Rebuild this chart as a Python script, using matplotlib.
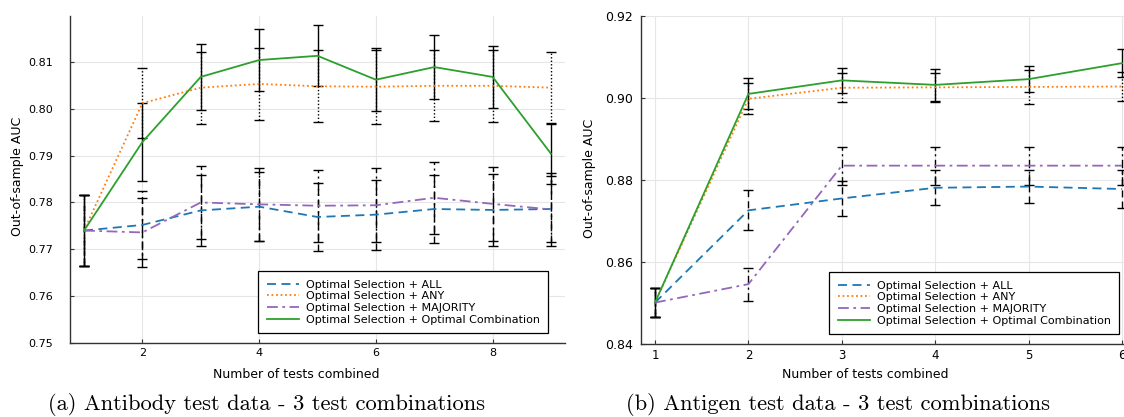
import numpy as np
import matplotlib.pyplot as plt

# Antibody panel: mean out-of-sample AUC and error half-widths
ab_x = [1, 2, 3, 4, 5, 6, 7, 8, 9]
ab_all = [0.7740, 0.7752, 0.7783, 0.7791, 0.7769, 0.7774, 0.7786, 0.7784, 0.7786]
ab_any = [0.7740, 0.8012, 0.8045, 0.8053, 0.8048, 0.8047, 0.8049, 0.8049, 0.8045]
ab_maj = [0.7740, 0.7736, 0.7800, 0.7796, 0.7793, 0.7794, 0.7810, 0.7797, 0.7785]
ab_opt = [0.7740, 0.7929, 0.8068, 0.8104, 0.8113, 0.8062, 0.8089, 0.8068, 0.7904]
ab_all_err = [0.0075, 0.0073, 0.0075, 0.0073, 0.0073, 0.0075, 0.0073, 0.0076, 0.0070]
ab_any_err = [0.0075, 0.0075, 0.0077, 0.0076, 0.0077, 0.0079, 0.0076, 0.0077, 0.0077]
ab_maj_err = [0.0075, 0.0074, 0.0078, 0.0078, 0.0077, 0.0079, 0.0077, 0.0079, 0.0077]
ab_opt_err = [0.0075, 0.0083, 0.0070, 0.0066, 0.0065, 0.0067, 0.0068, 0.0067, 0.0065]

# Antigen panel
ag_x = [1, 2, 3, 4, 5, 6]
ag_all = [0.8501, 0.8726, 0.8755, 0.8781, 0.8784, 0.8778]
ag_any = [0.8501, 0.8998, 0.9025, 0.9026, 0.9027, 0.9028]
ag_maj = [0.8501, 0.8546, 0.8835, 0.8835, 0.8835, 0.8835]
ag_opt = [0.8501, 0.9010, 0.9043, 0.9032, 0.9046, 0.9085]
ag_all_err = [0.0035, 0.0049, 0.0042, 0.0043, 0.0041, 0.0046]
ag_any_err = [0.0035, 0.0038, 0.0035, 0.0035, 0.0041, 0.0035]
ag_maj_err = [0.0035, 0.0040, 0.0046, 0.0046, 0.0046, 0.0046]
ag_opt_err = [0.0035, 0.0038, 0.0030, 0.0039, 0.0032, 0.0034]

labels = ['Optimal Selection + ALL', 'Optimal Selection + ANY',
          'Optimal Selection + MAJORITY', 'Optimal Selection + Optimal Combination']
colors = ['#1f77b4', '#ff7f0e', '#9467bd', '#2ca02c']
styles = [(0, (5, 3)), (0, (1, 1.5)), (0, (6, 2.5, 1.5, 2.5)), '-']

plt.rcParams['font.family'] = 'DejaVu Sans'

fig = plt.figure(figsize=(11.24, 4.17), dpi=100)
ax1 = fig.add_axes([70/1124, 74/417, 495/1124, 327/417])
ax2 = fig.add_axes([641/1124, 73/417, 495/1124, 328/417])


def draw_panel(ax, x, means, errs):
    for m, e, c, ls, lab in zip(means, errs, colors, styles, labels):
        eb = ax.errorbar(x, m, yerr=e, fmt='none', ecolor='black',
                         elinewidth=1.0, capsize=3.5, capthick=1.0, zorder=2)
        eb[2][0].set_linestyle(ls)
        ax.plot(x, m, color=c, linestyle=ls, linewidth=1.3, label=lab, zorder=3)
    ax.grid(True, color='#e6e6e6', linewidth=0.8)
    ax.set_axisbelow(True)
    for s in ['top', 'right']:
        ax.spines[s].set_visible(False)
    for s in ['left', 'bottom']:
        ax.spines[s].set_color('#333333')
        ax.spines[s].set_linewidth(1.0)
    ax.tick_params(direction='in', length=3, width=0.8, color='#333333',
                   labelsize=7.5)
    leg = ax.legend(loc='lower right', bbox_to_anchor=(0.9657, 0.0306),
                    borderaxespad=0, fontsize=8.0, handlelength=2.9,
                    labelspacing=0.15, borderpad=0.75, handletextpad=0.6,
                    fancybox=False, framealpha=1)
    leg.get_frame().set_edgecolor('black')
    leg.get_frame().set_linewidth(0.9)


draw_panel(ax1, ab_x, [ab_all, ab_any, ab_maj, ab_opt],
           [ab_all_err, ab_any_err, ab_maj_err, ab_opt_err])
ax1.set_xlim(0.76, 9.24)
ax1.set_ylim(0.75, 0.8198)
ax1.set_xticks([2, 4, 6, 8])
ax1.set_yticks(np.arange(0.75, 0.8151, 0.01))
ax1.set_yticklabels([f'{v:.2f}' for v in np.arange(0.75, 0.8151, 0.01)])
ax1.tick_params(axis='y', pad=12, labelsize=8)
ax1.tick_params(axis='x', labelsize=8)

draw_panel(ax2, ag_x, [ag_all, ag_any, ag_maj, ag_opt],
           [ag_all_err, ag_any_err, ag_maj_err, ag_opt_err])
ax2.set_xlim(0.85, 6.15)
ax2.set_ylim(0.84, 0.92)
ax2.set_xticks([1, 2, 3, 4, 5, 6])
ax2.set_yticks([0.84, 0.86, 0.88, 0.90, 0.92])
ax2.set_yticklabels(['0.84', '0.86', '0.88', '0.90', '0.92'])
ax2.tick_params(axis='y', pad=6, labelsize=9)
ax2.tick_params(axis='x', labelsize=8.5)

# axis titles
fig.text(296/1124, 1 - 374/417, 'Number of tests combined', ha='center',
         va='center', fontsize=9)
fig.text(865/1124, 1 - 374/417, 'Number of tests combined', ha='center',
         va='center', fontsize=9)
fig.text(18/1124, 1 - 176/417, 'Out-of-sample AUC', rotation=90,
         ha='center', va='center', fontsize=9)
fig.text(589/1124, 1 - 178/417, 'Out-of-sample AUC', rotation=90,
         ha='center', va='center', fontsize=9)

# sub-figure captions
fig.text(267/1124, 1 - 404/417, '(a) Antibody test data - 3 test combinations',
         ha='center', va='center', fontsize=16.2, family='cmr10')
fig.text(838/1124, 1 - 404/417, '(b) Antigen test data - 3 test combinations',
         ha='center', va='center', fontsize=16.2, family='cmr10')

fig.savefig('out.png', dpi=100)
